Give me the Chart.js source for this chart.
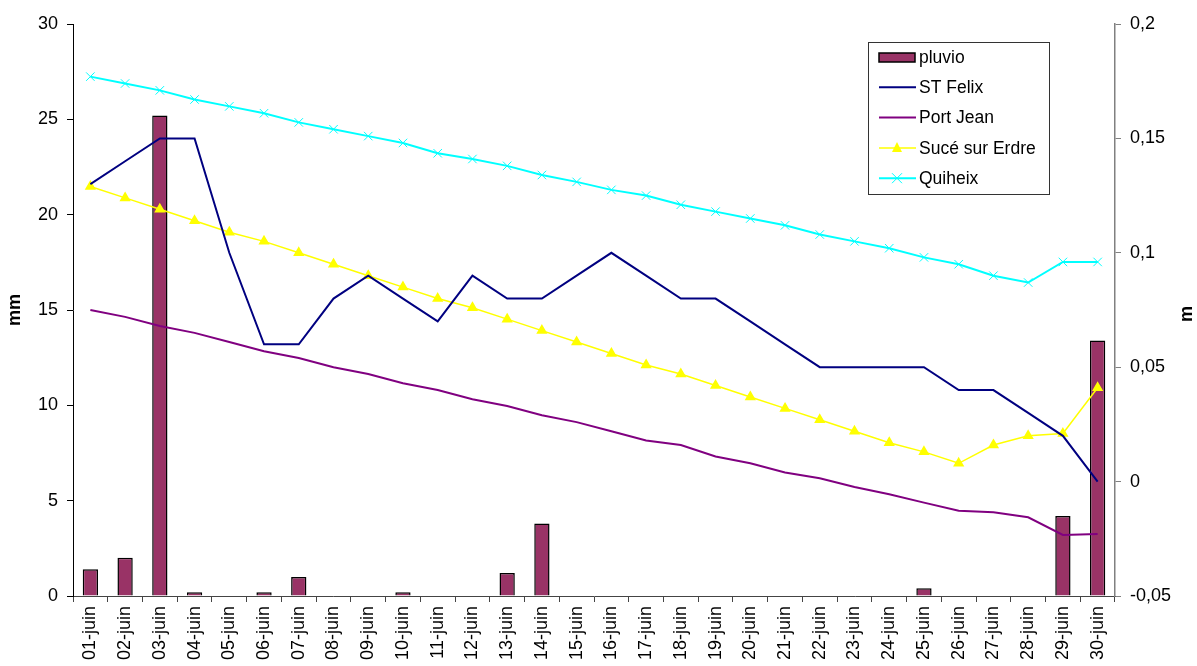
<!DOCTYPE html>
<html lang="fr">
<head>
  <meta charset="UTF-8">
  <title>Pluvio et niveaux - juin</title>
  <script src="https://cdn.jsdelivr.net/npm/chart.js@4.4.0/dist/chart.umd.min.js"></script>
  <style>
    body { margin: 0; background: #fff; }
    #cadre { width: 1197px; height: 666px; }
  </style>
</head>
<body>

<div id="cadre">
  <canvas id="graphique"></canvas>
</div>

<script>
  const jours = ['01-juin', '02-juin', '03-juin', '04-juin', '05-juin', '06-juin', '07-juin', '08-juin', '09-juin', '10-juin',
                 '11-juin', '12-juin', '13-juin', '14-juin', '15-juin', '16-juin', '17-juin', '18-juin', '19-juin', '20-juin',
                 '21-juin', '22-juin', '23-juin', '24-juin', '25-juin', '26-juin', '27-juin', '28-juin', '29-juin', '30-juin'];

  // pluie en mm (axe de gauche)
  const pluvio = [1.4, 2.0, 25.2, 0.2, 0, 0.2, 1.0, 0, 0, 0.2,
                  0, 0, 1.2, 3.8, 0, 0, 0, 0, 0, 0,
                  0, 0, 0, 0, 0.4, 0, 0, 0, 4.2, 13.4];

  // niveaux en m (axe de droite)
  const stFelix = [0.13, 0.14, 0.15, 0.15, 0.10, 0.06, 0.06, 0.08, 0.09, 0.08,
                   0.07, 0.09, 0.08, 0.08, 0.09, 0.10, 0.09, 0.08, 0.08, 0.07,
                   0.06, 0.05, 0.05, 0.05, 0.05, 0.04, 0.04, 0.03, 0.02, 0.00];

  const portJean = [0.075, 0.072, 0.068, 0.065, 0.061, 0.057, 0.054, 0.050, 0.047, 0.043,
                    0.040, 0.036, 0.033, 0.029, 0.026, 0.022, 0.018, 0.016, 0.011, 0.008,
                    0.004, 0.0015, -0.0024, -0.0055, -0.0092, -0.0127, -0.0134, -0.0156, -0.0233, -0.0229];

  const suce = [0.129, 0.124, 0.119, 0.114, 0.109, 0.105, 0.100, 0.095, 0.090, 0.085,
                0.080, 0.076, 0.071, 0.066, 0.061, 0.056, 0.051, 0.047, 0.042, 0.037,
                0.032, 0.027, 0.022, 0.017, 0.013, 0.008, 0.016, 0.020, 0.021, 0.041];

  const quiheix = [0.177, 0.174, 0.171, 0.167, 0.164, 0.161, 0.157, 0.154, 0.151, 0.148,
                   0.1435, 0.141, 0.138, 0.134, 0.131, 0.1275, 0.125, 0.121, 0.118, 0.115,
                   0.112, 0.108, 0.105, 0.102, 0.098, 0.095, 0.090, 0.087, 0.096, 0.096];

  Chart.defaults.font.family = "'Liberation Sans', Arial, sans-serif";
  Chart.defaults.color = '#000';

  // titres d'axes et légende encadrée, dessinés à la main
  const decor = {
    id: 'decor',
    afterDraw(chart) {
      const ctx = chart.ctx;
      const zone = chart.chartArea;
      const milieu = (zone.top + zone.bottom) / 2;

      ctx.save();
      ctx.font = "bold 18px 'Liberation Sans', Arial, sans-serif";
      ctx.fillStyle = '#000';
      ctx.textAlign = 'center';
      ctx.textBaseline = 'middle';
      ctx.translate(15, milieu);
      ctx.rotate(-Math.PI / 2);
      ctx.fillText('mm', 0, 0);
      ctx.restore();

      ctx.save();
      ctx.font = "bold 18px 'Liberation Sans', Arial, sans-serif";
      ctx.fillStyle = '#000';
      ctx.textAlign = 'center';
      ctx.textBaseline = 'middle';
      ctx.translate(1187, milieu + 4);
      ctx.rotate(-Math.PI / 2);
      ctx.fillText('m', 0, 0);
      ctx.restore();

      // légende
      const x0 = 868, y0 = 42, larg = 181, haut = 152;
      ctx.save();
      ctx.fillStyle = '#fff';
      ctx.fillRect(x0, y0, larg, haut);
      ctx.strokeStyle = '#333';
      ctx.lineWidth = 1;
      ctx.strokeRect(x0 + 0.5, y0 + 0.5, larg, haut);

      ctx.font = "17.5px 'Liberation Sans', Arial, sans-serif";
      ctx.textBaseline = 'middle';
      ctx.textAlign = 'left';

      chart.data.datasets.forEach((ds, i) => {
        const y = y0 + 15 + i * 30.3;
        if (ds.type === 'bar') {
          ctx.fillStyle = ds.backgroundColor;
          ctx.fillRect(879, y - 4, 36, 9);
          ctx.strokeStyle = '#000';
          ctx.lineWidth = 1.5;
          ctx.strokeRect(879, y - 4, 36, 9);
        } else {
          ctx.strokeStyle = ds.borderColor;
          ctx.lineWidth = ds.borderWidth;
          ctx.beginPath();
          ctx.moveTo(879, y);
          ctx.lineTo(916, y);
          ctx.stroke();
          if (ds.pointStyle === 'triangle') {
            ctx.fillStyle = ds.pointBackgroundColor;
            ctx.beginPath();
            ctx.moveTo(897, y - 6);
            ctx.lineTo(902, y + 4);
            ctx.lineTo(892, y + 4);
            ctx.closePath();
            ctx.fill();
          } else if (ds.pointStyle === 'crossRot') {
            ctx.lineWidth = 1;
            ctx.beginPath();
            ctx.moveTo(892, y - 5);
            ctx.lineTo(902, y + 5);
            ctx.moveTo(902, y - 5);
            ctx.lineTo(892, y + 5);
            ctx.stroke();
          }
        }
        ctx.fillStyle = '#000';
        ctx.fillText(ds.label, 919, y + 1);
      });
      ctx.restore();
    }
  };

  function virgule(v) {
    const r = Math.round(v * 100) / 100;
    return String(r).replace('.', ',');
  }

  const ctx = document.getElementById('graphique').getContext('2d');

  new Chart(ctx, {
    data: {
      labels: jours,
      datasets: [
        {
          type: 'bar',
          label: 'pluvio',
          data: pluvio,
          yAxisID: 'y',
          backgroundColor: '#993366',
          borderColor: '#000',
          borderWidth: 1.5,
          barPercentage: 0.44,
          categoryPercentage: 1,
          order: 1
        },
        {
          type: 'line',
          label: 'ST Felix',
          data: stFelix,
          yAxisID: 'y1',
          borderColor: '#000080',
          borderWidth: 2,
          pointRadius: 0,
          order: 0
        },
        {
          type: 'line',
          label: 'Port Jean',
          data: portJean,
          yAxisID: 'y1',
          borderColor: '#800080',
          borderWidth: 2,
          pointRadius: 0,
          order: 0
        },
        {
          type: 'line',
          label: 'Sucé sur Erdre',
          data: suce,
          yAxisID: 'y1',
          borderColor: '#FFFF00',
          borderWidth: 1.5,
          pointStyle: 'triangle',
          pointRadius: 5,
          pointBackgroundColor: '#FFFF00',
          pointBorderColor: '#FFFF00',
          order: 0
        },
        {
          type: 'line',
          label: 'Quiheix',
          data: quiheix,
          yAxisID: 'y1',
          borderColor: '#00FFFF',
          borderWidth: 2,
          pointStyle: 'crossRot',
          pointRadius: 6,
          pointBorderColor: '#00FFFF',
          pointBorderWidth: 1,
          order: 0
        }
      ]
    },
    options: {
      responsive: true,
      maintainAspectRatio: false,
      animation: false,
      layout: { padding: { top: 24, left: 0, right: 0, bottom: 0 } },
      plugins: {
        legend: { display: false },
        tooltip: { enabled: false }
      },
      scales: {
        x: {
          offset: true,
          grid: { offset: true, drawOnChartArea: false, tickLength: 6, color: '#444' },
          border: { color: '#444', width: 1 },
          ticks: {
            autoSkip: false,
            minRotation: 90,
            maxRotation: 90,
            padding: 4,
            font: { size: 18 }
          },
          afterFit: (s) => { s.height = 70; }
        },
        y: {
          position: 'left',
          min: 0,
          max: 30,
          ticks: { stepSize: 5, padding: 9, font: { size: 18 } },
          grid: { drawOnChartArea: false, tickLength: 6, color: '#000' },
          border: { color: '#000', width: 1 },
          afterFit: (s) => { s.width = 73; }
        },
        y1: {
          position: 'right',
          min: -0.05,
          max: 0.2,
          ticks: { stepSize: 0.05, padding: 9, font: { size: 18 }, callback: (v) => virgule(v) },
          grid: { drawOnChartArea: false, tickLength: 6, color: '#808080' },
          border: { color: '#808080', width: 1.5 },
          afterFit: (s) => { s.width = 82; }
        }
      }
    },
    plugins: [decor]
  });
</script>
</body>
</html>
